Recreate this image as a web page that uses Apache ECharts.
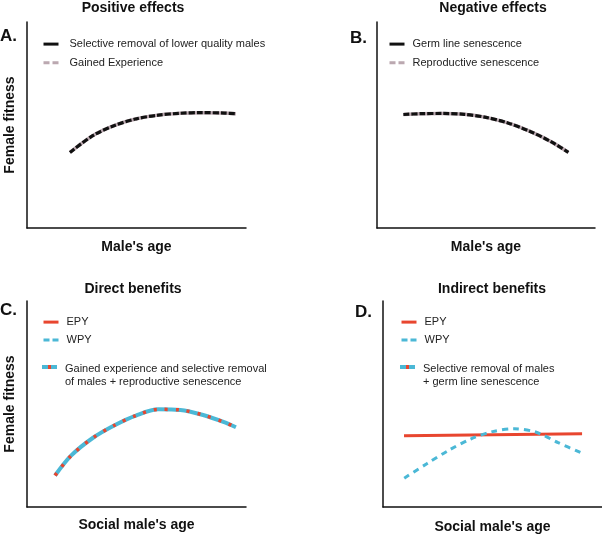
<!DOCTYPE html>
<html>
<head>
<meta charset="utf-8">
<script src="https://cdn.jsdelivr.net/npm/echarts@6/dist/echarts.min.js"></script>
<style>html,body{margin:0;padding:0;background:#fff;}#main{width:602px;height:535px;}</style>
</head>
<body>
<div id="main"></div>
<script>
// ---- Data ----
const panelTitles = ['Positive effects', 'Negative effects', 'Direct benefits', 'Indirect benefits'];
const panelLetters = ['A.', 'B.', 'C.', 'D.'];
const xNames = ["Male's age", "Male's age", "Social male's age", "Social male's age"];
const yName = 'Female fitness';

// Panel A
const ageA = [1.96, 3, 4, 5, 6, 7, 8, 9, 9.54];
const fitA = [3.67, 4.48, 4.98, 5.30, 5.48, 5.57, 5.60, 5.58, 5.55];
// Panel B
const ageB = [1.21, 2, 3, 4, 5, 6, 7, 8, 8.78];
const fitB = [5.51, 5.55, 5.56, 5.52, 5.37, 5.10, 4.70, 4.18, 3.67];
// Panel C (EPY and WPY overlap)
const ageC = [1.28, 2, 3, 4, 5, 6, 7, 8, 9, 9.54];
const fitC = [1.53, 2.48, 3.35, 3.97, 4.45, 4.74, 4.71, 4.48, 4.12, 3.87];
// Panel D
const ageDepy = [0.96, 9.09];
const fitDepy = [3.46, 3.56];
const ageDwpy = [0.97, 2, 3, 4, 5, 6, 7, 8, 9.07];
const fitDwpy = [1.40, 2.10, 2.75, 3.30, 3.66, 3.80, 3.63, 3.12, 2.62];

const legendA = ['Selective removal of lower quality males', 'Gained Experience'];
const legendB = ['Germ line senescence', 'Reproductive senescence'];
const legendCD = ['EPY', 'WPY'];
const noteC = 'Gained experience and selective removal\nof males + reproductive senescence';
const noteD = 'Selective removal of males\n+ germ line senescence';

// ---- Styling ----
const FONT = '"Liberation Sans", Arial, Helvetica, sans-serif';
const BLACK = '#111111', GREY = '#bba8b0', RED = '#e8462f', BLUE = '#4bb8d6', TXT = '#222222';

const pair = (xs, ys) => xs.map((x, i) => [x, ys[i]]);

const grids = [
  {left: 27, top: 22, width: 219, height: 206},
  {left: 377, top: 22, width: 218, height: 206},
  {left: 27, top: 301, width: 219, height: 206},
  {left: 383, top: 301, width: 219, height: 206}
];
const xGaps = [12, 12, 11, 13];

const axisLine = {show: true, onZero: false, lineStyle: {color: BLACK, width: 1.5}};
const xAxes = grids.map((g, i) => ({
  type: 'value', gridIndex: i, min: 0, max: 10,
  axisLine: axisLine, axisTick: {show: false}, axisLabel: {show: false}, splitLine: {show: false},
  name: xNames[i], nameLocation: 'middle', nameGap: xGaps[i],
  nameTextStyle: {fontFamily: FONT, fontWeight: 'bold', fontSize: 14, color: BLACK}
}));
const yAxes = grids.map((g, i) => ({
  type: 'value', gridIndex: i, min: 0, max: 10,
  axisLine: axisLine, axisTick: {show: false}, axisLabel: {show: false}, splitLine: {show: false},
  name: (i === 0 || i === 2) ? yName : '', nameLocation: 'middle', nameGap: 10,
  nameTextStyle: {fontFamily: FONT, fontWeight: 'bold', fontSize: 14, color: BLACK}
}));

function line(name, idx, data, color, width, type, z) {
  return {
    type: 'line', name: name, xAxisIndex: idx, yAxisIndex: idx, data: data,
    smooth: 0.3, symbol: 'none', silent: true, z: z,
    itemStyle: {color: color},
    lineStyle: {color: color, width: width, type: type}
  };
}

const series = [
  line(legendA[1], 0, pair(ageA, fitA), GREY, 3.5, 'solid', 2),
  line(legendA[0], 0, pair(ageA, fitA), BLACK, 3.2, [6, 2], 3),
  line(legendB[1], 1, pair(ageB, fitB), GREY, 3.5, 'solid', 2),
  line(legendB[0], 1, pair(ageB, fitB), BLACK, 3.2, [6, 2], 3),
  line(legendCD[1], 2, pair(ageC, fitC), BLUE, 4, 'solid', 2),
  line(legendCD[0], 2, pair(ageC, fitC), RED, 3.5, [3, 8], 3),
  line(legendCD[0], 3, pair(ageDepy, fitDepy), RED, 3, 'solid', 2),
  line(legendCD[1], 3, pair(ageDwpy, fitDwpy), BLUE, 3, [6, 5], 3)
];

const legendText = {fontFamily: FONT, fontSize: 11, color: TXT};
function legend(left, top, gap, items, textPad) {
  return {
    left: left, top: top, orient: 'vertical', padding: 0,
    itemWidth: 15, itemHeight: 14, itemGap: gap, selectedMode: false,
    textStyle: Object.assign({padding: [0, 0, 0, textPad]}, legendText),
    data: items.map(it => Object.assign({itemStyle: {opacity: 0}}, it))
  };
}
const solidBlack = {type: 'solid', width: 3, color: BLACK};
const dashGrey = {type: [6, 3], width: 3, color: GREY};
const solidRed = {type: 'solid', width: 3, color: RED};
const dashBlue = {type: [6, 3], width: 3, color: BLUE};

const legends = [
  legend(42, 38.5, 7.5, [{name: legendA[0], lineStyle: solidBlack}, {name: legendA[1], lineStyle: dashGrey}], 6),
  legend(388, 38.5, 7.5, [{name: legendB[0], lineStyle: solidBlack}, {name: legendB[1], lineStyle: dashGrey}], 3),
  legend(42, 316.5, 6.7, [{name: legendCD[0], lineStyle: solidRed}, {name: legendCD[1], lineStyle: dashBlue}], 3),
  legend(400, 316.5, 6.7, [{name: legendCD[0], lineStyle: solidRed}, {name: legendCD[1], lineStyle: dashBlue}], 3)
];

const titleCenters = [[133, 1], [493, 1], [133, 282], [492, 282]];
const titles = panelTitles.map((t, i) => ({
  text: t, left: titleCenters[i][0], top: titleCenters[i][1], textAlign: 'center', padding: 0,
  textStyle: {fontFamily: FONT, fontWeight: 'bold', fontSize: 14, color: BLACK}
}));

const letterPos = [[0, 36], [350, 38], [0, 310], [355, 312]];
const graphic = panelLetters.map((l, i) => ({
  type: 'text', x: letterPos[i][0], y: letterPos[i][1],
  style: {text: l, font: 'bold 17px ' + FONT, fill: BLACK, verticalAlign: 'middle'}
}));
function noteEntry(x0, textX, txt) {
  return [
    {type: 'line', shape: {x1: x0, y1: 367, x2: x0 + 15, y2: 367}, style: {stroke: BLUE, lineWidth: 4}},
    {type: 'rect', shape: {x: x0 + 6, y: 365, width: 3, height: 4}, style: {fill: RED}},
    {type: 'text', x: textX, y: 362.5, style: {text: txt, font: '11px ' + FONT, fill: TXT, verticalAlign: 'top', lineHeight: 13}}
  ];
}
graphic.push(...noteEntry(42, 65, noteC), ...noteEntry(400, 423, noteD));

const chart = echarts.init(document.getElementById('main'), null, {renderer: 'canvas'});
chart.setOption({
  animation: false,
  backgroundColor: '#fff',
  title: titles,
  grid: grids,
  xAxis: xAxes,
  yAxis: yAxes,
  legend: legends,
  series: series,
  graphic: graphic
});
</script>
</body>
</html>
